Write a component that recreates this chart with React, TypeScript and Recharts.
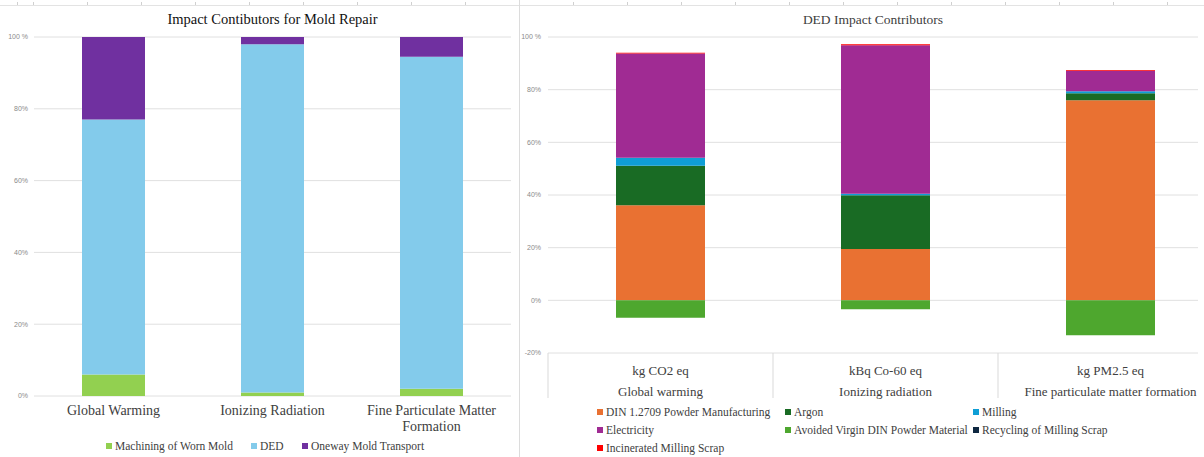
import { BarChart, Bar, XAxis, YAxis, CartesianGrid } from "recharts";

// Left panel: share of impact for mold repair (%)
const moldCategories = ["Global Warming", "Ionizing Radiation", "Fine Particulate Matter Formation"];
const machiningWornMold = [6, 1, 2];
const dedShare = [71, 97, 92.5];
const onewayTransport = [23, 2, 5.5];
const moldTicks = [0, 20, 40, 60, 80, 100];

// Right panel: DED impact contributors (%)
const dedUnits = ["kg CO2 eq", "kBq Co-60 eq", "kg PM2.5 eq"];
const dedCategories = ["Global warming", "Ionizing radiation", "Fine particulate matter formation"];
const dinPowder = [36.1, 19.5, 76];
const argon = [15, 20.4, 2.6];
const milling = [3, 0.6, 0.8];
const electricity = [39.6, 56.4, 7.8];
const avoidedVirgin = [-6.6, -3.4, -13.3];
const recyclingScrap = [0, 0, 0];
const incineratedScrap = [0.3, 0.3, 0.3];
const dedTicks = [-20, 0, 20, 40, 60, 80, 100];

const moldSeries = [
  { key: "machining", name: "Machining of Worn Mold", color: "#92D050" },
  { key: "ded", name: "DED", color: "#83CBEB" },
  { key: "transport", name: "Oneway Mold Transport", color: "#7030A0" },
];

const dedSeries = [
  { key: "din", name: "DIN 1.2709 Powder Manufacturing", color: "#E97132" },
  { key: "argon", name: "Argon", color: "#196B24" },
  { key: "milling", name: "Milling", color: "#0F9ED5" },
  { key: "electricity", name: "Electricity", color: "#A02B93" },
  { key: "avoided", name: "Avoided Virgin DIN Powder Material", color: "#4EA72E" },
  { key: "recycling", name: "Recycling of Milling Scrap", color: "#0E2841" },
  { key: "incinerated", name: "Incinerated Milling Scrap", color: "#FF0000" },
];

const moldData = moldCategories.map((name, i) => ({
  name,
  machining: machiningWornMold[i],
  ded: dedShare[i],
  transport: onewayTransport[i],
}));

const dedData = dedCategories.map((name, i) => ({
  name,
  unit: dedUnits[i],
  din: dinPowder[i],
  argon: argon[i],
  milling: milling[i],
  electricity: electricity[i],
  avoided: avoidedVirgin[i],
  recycling: recyclingScrap[i],
  incinerated: incineratedScrap[i],
}));

const SERIF = "'Liberation Serif', 'Times New Roman', serif";
const SANS = "'Liberation Sans', Arial, sans-serif";
const yTickStyle = { fontSize: 7, fill: "#8a8a8a", fontFamily: SANS };
// non-breaking space so the tick text doesn't wrap
const pct = (v: number) => (v === 100 ? "100\u00a0%" : `${v}%`);

// wraps long category names onto two lines
function wrapLabel(text: string, max: number) {
  const lines: string[] = [];
  let cur = "";
  text.split(" ").forEach((w) => {
    if (cur && (cur + " " + w).length > max) {
      lines.push(cur);
      cur = w;
    } else {
      cur = cur ? cur + " " + w : w;
    }
  });
  if (cur) lines.push(cur);
  return lines;
}

const MoldTick = (props: any) => {
  const { x, y, payload } = props;
  const lines = wrapLabel(payload.value, 23);
  return (
    <text x={x} y={y} textAnchor="middle" fontFamily={SERIF} fontSize={14} fill="#404040">
      {lines.map((l, i) => (
        <tspan key={i} x={x} dy={i === 0 ? 19 : 16}>
          {l}
        </tspan>
      ))}
    </text>
  );
};

const DED_PLOT_W = 675;
const DedTick = (props: any) => {
  const { x, y, payload, index } = props;
  const bw = DED_PLOT_W / dedCategories.length;
  const unit = dedUnits[index];
  return (
    <g>
      <line x1={x - bw / 2} x2={x - bw / 2} y1={y} y2={y + 45} stroke="#d9d9d9" />
      {index === dedCategories.length - 1 && (
        <line x1={x + bw / 2} x2={x + bw / 2} y1={y} y2={y + 45} stroke="#d9d9d9" />
      )}
      <text x={x} y={y + 22} textAnchor="middle" fontFamily={SERIF} fontSize={13} fill="#404040">
        {unit}
      </text>
      <text x={x} y={y + 43} textAnchor="middle" fontFamily={SERIF} fontSize={13} fill="#404040">
        {payload.value}
      </text>
    </g>
  );
};

function LegendItem({ name, color, left, top }: { name: string; color: string; left: number; top: number }) {
  return (
    <div
      style={{
        position: "absolute",
        left,
        top: top - 8,
        height: 16,
        display: "flex",
        alignItems: "center",
        whiteSpace: "nowrap",
        fontFamily: SERIF,
        fontSize: 11.5,
        color: "#404040",
      }}
    >
      <span style={{ display: "inline-block", width: 6, height: 6, background: color, marginRight: 3 }} />
      {name}
    </div>
  );
}

const moldLegendPos = [
  { left: 106, top: 446 },
  { left: 251, top: 446 },
  { left: 302, top: 446 },
];

const dedLegendPos = [
  { left: 597, top: 412 },
  { left: 785, top: 412 },
  { left: 973, top: 412 },
  { left: 597, top: 430 },
  { left: 785, top: 430 },
  { left: 973, top: 430 },
  { left: 597, top: 448 },
];

export default function App() {
  return (
    <div
      style={{
        position: "absolute",
        left: 0,
        top: 0,
        width: 1204,
        height: 457,
        background: "#fff",
        overflow: "hidden",
      }}
    >
      {/* sheet ruler and panel divider */}
      <div style={{ position: "absolute", left: 0, top: 5, width: 1204, height: 1, background: "#e3e3e3" }} />
      <div
        style={{
          position: "absolute",
          left: 0,
          top: 2,
          width: 1204,
          height: 3,
          backgroundImage: "repeating-linear-gradient(to right, #d0d0d0 0 1px, transparent 1px 54px)",
          backgroundPosition: "33px 0",
        }}
      />
      <div style={{ position: "absolute", left: 519, top: 0, width: 1, height: 457, background: "#dcdcdc" }} />

      {/* left panel */}
      <div style={{ position: "absolute", left: 0, top: 0 }}>
        <div
          style={{
            position: "absolute",
            left: 34,
            width: 477,
            top: 11,
            textAlign: "center",
            fontFamily: SERIF,
            fontSize: 14.5,
            color: "#111",
            zIndex: 1,
          }}
        >
          Impact Contibutors for Mold Repair
        </div>
        <BarChart width={519} height={457} data={moldData} margin={{ top: 37, right: 8, bottom: 21, left: 0 }}>
          <CartesianGrid vertical={false} stroke="#e0e0e0" />
          <YAxis
            width={34}
            domain={[0, 100]}
            ticks={moldTicks}
            tickFormatter={pct}
            axisLine={false}
            tickLine={false}
            tickSize={0}
            tickMargin={6}
            tick={yTickStyle}
          />
          <XAxis
            dataKey="name"
            height={40}
            axisLine={false}
            tickLine={false}
            tickSize={0}
            tickMargin={0}
            interval={0}
            tick={<MoldTick />}
          />
          {moldSeries.map((s) => (
            <Bar key={s.key} dataKey={s.key} name={s.name} stackId="a" fill={s.color} barSize={63} isAnimationActive={false} />
          ))}
        </BarChart>
        {moldSeries.map((s, i) => (
          <LegendItem key={s.key} name={s.name} color={s.color} left={moldLegendPos[i].left} top={moldLegendPos[i].top} />
        ))}
      </div>

      {/* right panel */}
      <div
        style={{
          position: "absolute",
          left: 548,
          width: 650,
          top: 12,
          textAlign: "center",
          fontFamily: SERIF,
          fontSize: 13.5,
          color: "#404040",
          zIndex: 1,
        }}
      >
        DED Impact Contributors
      </div>
      <div style={{ position: "absolute", left: 519, top: 0, width: 679, height: 457, overflow: "hidden" }}>
        <BarChart
          width={704}
          height={457}
          data={dedData}
          stackOffset="sign"
          margin={{ top: 37, right: 0, bottom: 54, left: 0 }}
        >
          <CartesianGrid vertical={false} stroke="#e0e0e0" />
          <YAxis
            width={29}
            domain={[-20, 100]}
            ticks={dedTicks}
            tickFormatter={pct}
            axisLine={false}
            tickLine={false}
            tickSize={0}
            tickMargin={7}
            tick={yTickStyle}
          />
          <XAxis
            dataKey="name"
            height={50}
            axisLine={false}
            tickLine={false}
            tickSize={0}
            tickMargin={0}
            interval={0}
            tick={<DedTick />}
          />
          {dedSeries.map((s) => (
            <Bar key={s.key} dataKey={s.key} name={s.name} stackId="d" fill={s.color} barSize={89} isAnimationActive={false} />
          ))}
        </BarChart>
      </div>
      {dedSeries.map((s, i) => (
        <LegendItem key={s.key} name={s.name} color={s.color} left={dedLegendPos[i].left} top={dedLegendPos[i].top} />
      ))}
    </div>
  );
}
